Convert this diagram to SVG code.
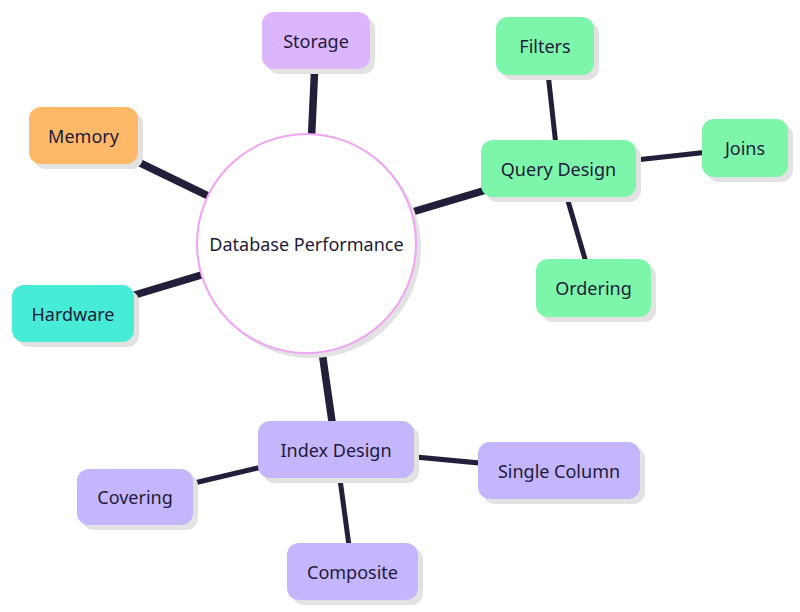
<svg xmlns="http://www.w3.org/2000/svg" width="800" height="612" viewBox="0 0 800 612">
<style>
.shadow{fill:#e2e2e2}
.lbl{font-family:"Noto Sans","DejaVu Sans",sans-serif;font-size:18px;fill:#1e1b3a;text-anchor:middle;dominant-baseline:central}
.e1{stroke:#231f3a;stroke-width:7.5;stroke-linecap:butt}
.e2{stroke:#231f3a;stroke-width:5;stroke-linecap:butt}
.purple{fill:#dcb5ff}
.orange{fill:#fdb868}
.green{fill:#7df5aa}
.teal{fill:#46ecd5}
.violet{fill:#c4b5fd}
</style>
<rect width="800" height="612" fill="#ffffff"/>
<g id="connectors">
<line class="e1" x1="306.5" y1="243.5" x2="316" y2="40.5"/>
<line class="e1" x1="306.5" y1="243.5" x2="83.5" y2="135.5"/>
<line class="e1" x1="306.5" y1="243.5" x2="73" y2="313.5"/>
<line class="e1" x1="306.5" y1="243.5" x2="558.5" y2="168.5"/>
<line class="e1" x1="306.5" y1="243.5" x2="336" y2="449.5"/>
<line class="e2" x1="558.5" y1="168.5" x2="545" y2="46"/>
<line class="e2" x1="558.5" y1="168.5" x2="745" y2="148"/>
<line class="e2" x1="558.5" y1="168.5" x2="593.5" y2="288"/>
<line class="e2" x1="336" y1="449.5" x2="135" y2="497"/>
<line class="e2" x1="336" y1="449.5" x2="352.5" y2="571.5"/>
<line class="e2" x1="336" y1="449.5" x2="559" y2="470.5"/>
</g>
<g id="root">
<circle class="shadow" cx="311" cy="248" r="110"/>
<circle cx="306.5" cy="243.5" r="109.5" fill="#ffffff" stroke="#f0a3f5" stroke-width="2"/>
<text class="lbl" x="306.5" y="243.5">Database Performance</text>
</g>
<g id="storage">
<rect class="shadow" x="267" y="17" width="108" height="57" rx="12"/>
<rect class="purple" x="262" y="12" width="108" height="57" rx="12"/>
<text class="lbl" x="316" y="40.5">Storage</text>
</g>
<g id="memory">
<rect class="shadow" x="34" y="112" width="109" height="57" rx="12"/>
<rect class="orange" x="29" y="107" width="109" height="57" rx="12"/>
<text class="lbl" x="83.5" y="135.5">Memory</text>
</g>
<g id="hardware">
<rect class="shadow" x="17" y="290" width="122" height="57" rx="12"/>
<rect class="teal" x="12" y="285" width="122" height="57" rx="12"/>
<text class="lbl" x="73" y="313.5">Hardware</text>
</g>
<g id="query-design">
<rect class="shadow" x="486" y="145" width="155" height="57" rx="12"/>
<rect class="green" x="481" y="140" width="155" height="57" rx="12"/>
<text class="lbl" x="558.5" y="168.5">Query Design</text>
</g>
<g id="filters">
<rect class="shadow" x="501" y="22" width="98" height="58" rx="12"/>
<rect class="green" x="496" y="17" width="98" height="58" rx="12"/>
<text class="lbl" x="545" y="46">Filters</text>
</g>
<g id="joins">
<rect class="shadow" x="707" y="124" width="86" height="58" rx="12"/>
<rect class="green" x="702" y="119" width="86" height="58" rx="12"/>
<text class="lbl" x="745" y="148">Joins</text>
</g>
<g id="ordering">
<rect class="shadow" x="541" y="264" width="115" height="58" rx="12"/>
<rect class="green" x="536" y="259" width="115" height="58" rx="12"/>
<text class="lbl" x="593.5" y="288">Ordering</text>
</g>
<g id="index-design">
<rect class="shadow" x="263" y="426" width="156" height="57" rx="12"/>
<rect class="violet" x="258" y="421" width="156" height="57" rx="12"/>
<text class="lbl" x="336" y="449.5">Index Design</text>
</g>
<g id="covering">
<rect class="shadow" x="82" y="474" width="116" height="56" rx="12"/>
<rect class="violet" x="77" y="469" width="116" height="56" rx="12"/>
<text class="lbl" x="135" y="497">Covering</text>
</g>
<g id="composite">
<rect class="shadow" x="292" y="548" width="131" height="57" rx="12"/>
<rect class="violet" x="287" y="543" width="131" height="57" rx="12"/>
<text class="lbl" x="352.5" y="571.5">Composite</text>
</g>
<g id="single-column">
<rect class="shadow" x="483" y="447" width="162" height="57" rx="12"/>
<rect class="violet" x="478" y="442" width="162" height="57" rx="12"/>
<text class="lbl" x="559" y="470.5">Single Column</text>
</g>
</svg>
